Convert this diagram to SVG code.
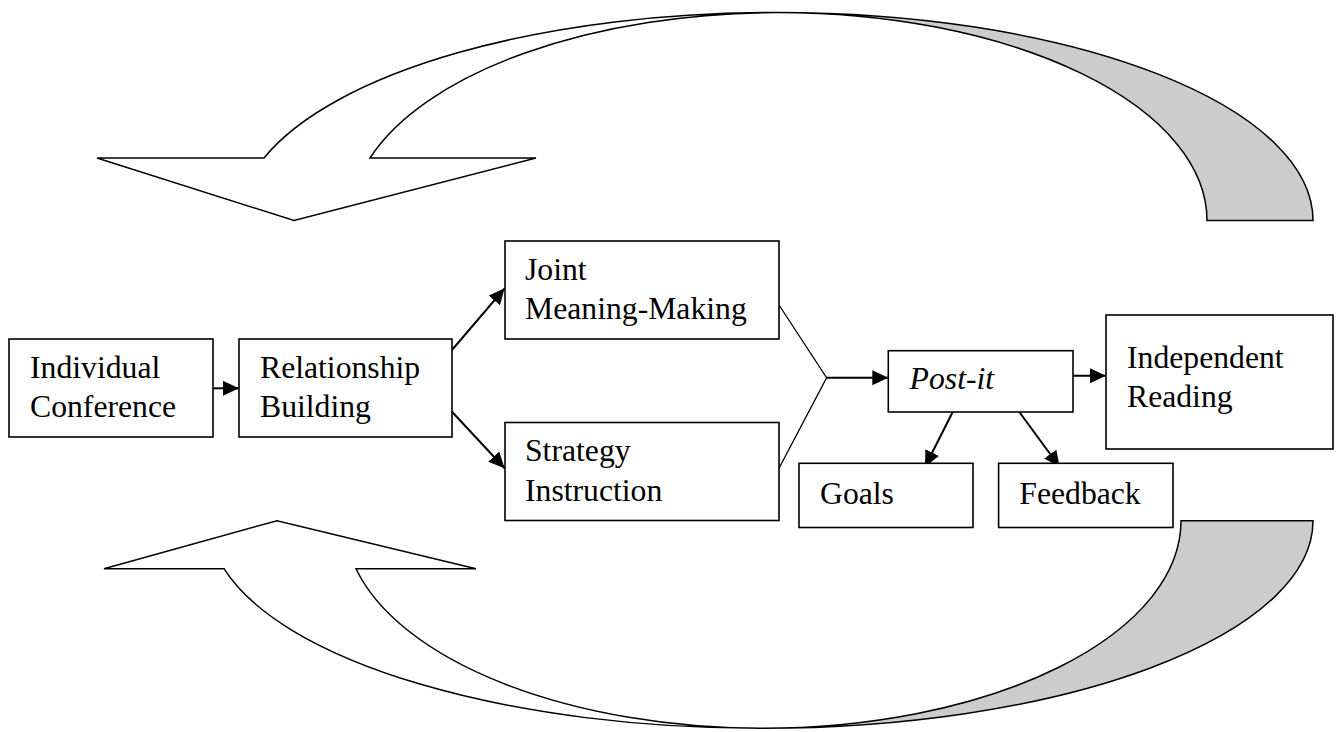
<svg xmlns="http://www.w3.org/2000/svg" width="1336" height="732" viewBox="0 0 1336 732">
<defs>
<style>
.box{fill:#fff;stroke:#000;stroke-width:1.6}
.t{font-family:"Liberation Serif","Times New Roman",serif;font-size:31.7px;fill:#000}
.it{font-style:italic}
.c{fill:none;stroke:#000;stroke-width:2}
.m{fill:none;stroke:#000;stroke-width:1.3}
.big{stroke:#000;stroke-width:1.5;stroke-linejoin:miter}
</style>
<marker id="ah" markerUnits="userSpaceOnUse" markerWidth="17" markerHeight="16" refX="16" refY="7.5" orient="auto">
<path d="M0,0 L16,7.5 L0,15 z" fill="#000"/>
</marker>
</defs>
<g id="cycle-top">
<path class="big" fill="#cccccc" d="M778,12.5 A535,208 0 0 1 1313,220.5 L1207,220.5 A429,208 0 0 0 778,12.5 Z"/>
<path class="big" fill="#fff" d="M97,158 L264,158 A535,208 0 0 1 778,12.5 A429,208 0 0 0 370,158 L536,158 L294,220.5 Z"/>
</g>
<g id="cycle-bottom">
<path class="big" fill="#cccccc" d="M1181,520.7 L1313,520.7 A551,207.5 0 0 1 762,728.3 A419,207.5 0 0 0 1181,520.7 Z"/>
<path class="big" fill="#fff" d="M104,568.7 L277,520.7 L476,568.7 L356,568.7 A419,207.5 0 0 0 762,728.3 A551,207.5 0 0 1 224,568.7 Z"/>
</g>
<g id="connectors">
<line class="c" x1="213" y1="388.3" x2="239" y2="388.3" marker-end="url(#ah)"/>
<line class="c" x1="452" y1="350" x2="504.6" y2="288.3" marker-end="url(#ah)"/>
<line class="c" x1="452" y1="411.7" x2="504.6" y2="468.3" marker-end="url(#ah)"/>
<polyline class="m" points="779,305 826.6,377.7 779,468.3"/>
<line class="c" x1="826.6" y1="377.7" x2="888.3" y2="377.7" marker-end="url(#ah)"/>
<line class="c" x1="1073" y1="375.7" x2="1106" y2="375.7" marker-end="url(#ah)"/>
<line class="c" x1="952.7" y1="412" x2="924.9" y2="467" marker-end="url(#ah)"/>
<line class="c" x1="1019.3" y1="412" x2="1059.7" y2="467" marker-end="url(#ah)"/>
</g>
<g id="individual-conference">
<rect class="box" x="9" y="339" width="204" height="98"/>
<text class="t" x="30" y="377.7">Individual</text>
<text class="t" x="30" y="416.7">Conference</text>
</g>
<g id="relationship-building">
<rect class="box" x="239" y="339" width="213" height="98"/>
<text class="t" x="260" y="377.7">Relationship</text>
<text class="t" x="260" y="416.7">Building</text>
</g>
<g id="joint-meaning-making">
<rect class="box" x="505" y="241" width="274" height="98"/>
<text class="t" x="525" y="280">Joint</text>
<text class="t" x="525" y="318.5">Meaning-Making</text>
</g>
<g id="strategy-instruction">
<rect class="box" x="505" y="422.5" width="274" height="98"/>
<text class="t" x="525" y="461">Strategy</text>
<text class="t" x="525" y="500.5">Instruction</text>
</g>
<g id="post-it">
<rect class="box" x="888.3" y="350.7" width="184.7" height="61.3"/>
<text class="t it" x="909.6" y="389.3">Post-it</text>
</g>
<g id="independent-reading">
<rect class="box" x="1106" y="315" width="227" height="134"/>
<text class="t" x="1127" y="368.3">Independent</text>
<text class="t" x="1127" y="406.7">Reading</text>
</g>
<g id="goals">
<rect class="box" x="799" y="463.3" width="174" height="64.2"/>
<text class="t" x="820" y="504">Goals</text>
</g>
<g id="feedback">
<rect class="box" x="998.6" y="463.3" width="174.4" height="64.2"/>
<text class="t" x="1019.3" y="504">Feedback</text>
</g>
</svg>
